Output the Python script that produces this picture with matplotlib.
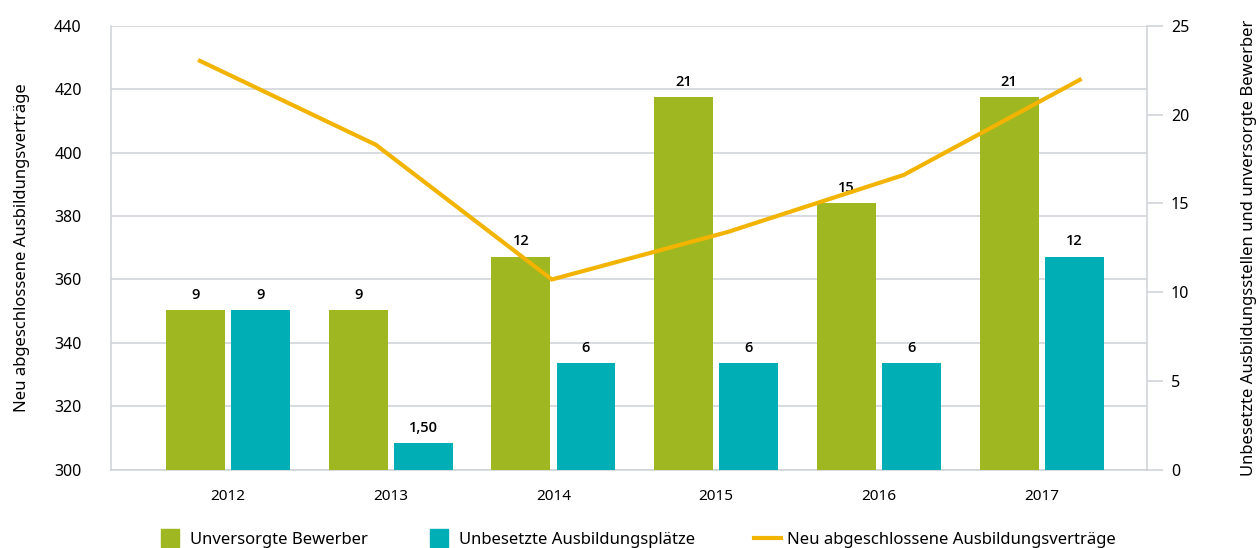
import numpy as np
import matplotlib
matplotlib.use("Agg")
import matplotlib.pyplot as plt
from matplotlib.lines import Line2D

plt.rcParams['font.family'] = ['Noto Sans', 'DejaVu Sans']

# Daten
jahre = ['2012', '2013', '2014', '2015', '2016', '2017']
unversorgt = [9, 9, 12, 21, 15, 21]
unbesetzt = [9, 1.5, 6, 6, 6, 12]
vertraege = [429, 402.5, 360, 375, 393, 423]
label_unversorgt = ['9', '9', '12', '21', '15', '21']
label_unbesetzt = ['9', '1,50', '6', '6', '6', '12']

GRUEN = '#9fb720'
TUERKIS = '#00afb5'
GELB = '#f2b400'
GRID = '#cdd2d7'

fig = plt.figure(figsize=(12.6, 5.48), dpi=100)
pos = [0.088, 0.143, 0.822, 0.8096]
ax = fig.add_axes(pos)
x = np.arange(len(jahre))

# linke Achse mit Gitter
ax.set_ylim(300, 440)
ax.set_yticks(range(300, 441, 20))
ax.set_xlim(-0.72, 5.645)
ax.set_xticks(x)
ax.set_xticklabels(jahre, fontsize=11)
ax.grid(axis='y', color=GRID, linewidth=1.1)
ax.set_axisbelow(True)
ax.tick_params(axis='y', length=0, labelsize=11.5, pad=21)
ax.tick_params(axis='x', length=0, pad=14)
for s in ['top', 'right']:
    ax.spines[s].set_visible(False)
ax.spines['left'].set_color(GRID)
ax.spines['bottom'].set_color(GRID)
ax.spines['left'].set_linewidth(1.1)
ax.spines['bottom'].set_linewidth(1.1)
ax.set_ylabel('Neu abgeschlossene Ausbildungsverträge', fontsize=12, labelpad=17)

# rechte Achse mit Balken
axr = ax.twinx()
axr.set_ylim(0, 25)
axr.set_yticks(range(0, 26, 5))
axr.tick_params(axis='y', length=11.5, color=GRID, width=1.1, labelsize=11.5, pad=6)
for s in ['top', 'left', 'bottom']:
    axr.spines[s].set_visible(False)
axr.spines['right'].set_color(GRID)
axr.spines['right'].set_linewidth(1.1)
w = 0.362
b1 = axr.bar(x - 0.2, unversorgt, w, color=GRUEN)
b2 = axr.bar(x + 0.2, unbesetzt, w, color=TUERKIS)
for bars, labs in [(b1, label_unversorgt), (b2, label_unbesetzt)]:
    for r, t in zip(bars, labs):
        axr.annotate(t, (r.get_x() + r.get_width() / 2, r.get_height()),
                     xytext=(0, 6), textcoords='offset points',
                     ha='center', va='bottom', fontsize=10.5,
                     family=['Open Sans', 'DejaVu Sans'], fontweight='semibold')
axr.set_ylabel('Unbesetzte Ausbildungsstellen und unversorgte Bewerber',
               fontsize=12, labelpad=37)

# Linie auf eigener x-Skala
axl = fig.add_axes(pos)
axl.set_xlim(-0.506, 5.38)
axl.set_ylim(300, 440)
axl.plot(x, vertraege, color=GELB, linewidth=3, solid_joinstyle='miter')
axl.axis('off')
axl.patch.set_alpha(0)

handles = [
    Line2D([], [], marker='s', linestyle='none', markersize=13, color=GRUEN),
    Line2D([], [], marker='s', linestyle='none', markersize=13, color=TUERKIS),
    Line2D([], [], color=GELB, linewidth=3),
]
fig.legend(handles, ['Unversorgte Bewerber', 'Unbesetzte Ausbildungsplätze',
                     'Neu abgeschlossene Ausbildungsverträge'],
           loc='lower center', bbox_to_anchor=(0.505, -0.027), ncol=3, frameon=False,
           fontsize=12, columnspacing=3.5, handlelength=1.6, handletextpad=0.4)

fig.savefig('out.png', dpi=100)
